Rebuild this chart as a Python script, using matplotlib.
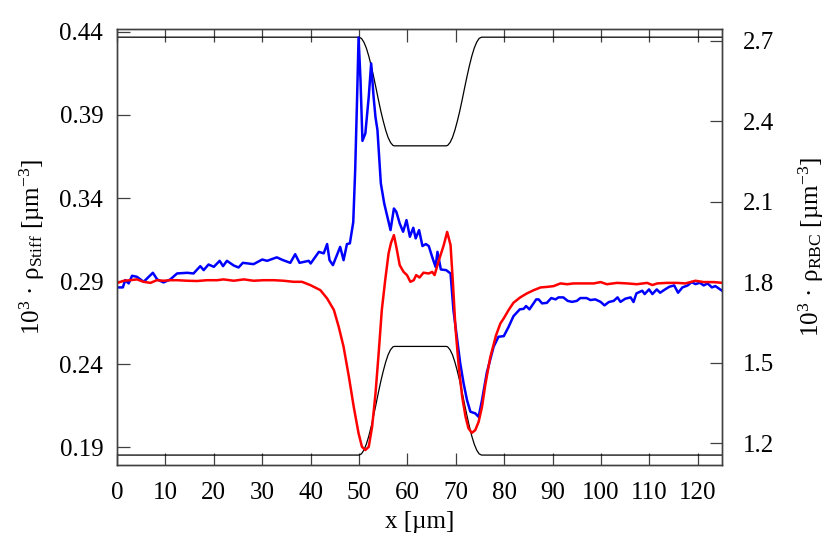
import numpy as np
import matplotlib
matplotlib.use('Agg')
import matplotlib.pyplot as plt

plt.rcParams['font.family'] = ['Liberation Serif', 'DejaVu Serif']
plt.rcParams['mathtext.fontset'] = 'custom'
plt.rcParams['mathtext.rm'] = 'Liberation Serif'
plt.rcParams['mathtext.it'] = 'Liberation Serif:italic'

# stiff cell density (left axis)
x_stiff = [0.0, 1.2, 1.7, 2.4, 3.1, 4.1, 5.5, 6.2, 7.4, 8.3, 9.6, 11.0, 12.4, 14.5,
           15.8, 17.2, 17.9, 18.9, 20.0, 21.2, 21.9, 22.7, 24.1, 25.1, 26.0, 28.2,
           30.0, 31.0, 33.0, 34.3, 35.8, 36.8, 37.7, 39.6, 40.0, 41.7, 42.7, 43.4,
           43.9, 44.6, 46.1, 46.8, 47.5, 48.1, 48.8, 49.2, 49.6, 49.9, 50.3, 50.7,
           51.3, 52.0, 52.5, 53.0, 53.4, 53.8, 54.5, 55.2, 56.5, 57.2, 57.7, 58.4,
           59.1, 59.8, 60.5, 61.2, 61.7, 62.4, 63.1, 63.8, 64.4, 65.1, 65.8, 66.2,
           66.9, 68.0, 68.9, 69.5, 70.2, 70.9, 71.6, 72.3, 73.0, 74.0, 74.7, 75.4,
           76.4, 77.8, 78.8, 79.9, 80.9, 81.9, 83.2, 84.0, 84.5, 85.2, 86.6, 87.1,
           87.8, 88.8, 89.7, 90.6, 91.2, 92.2, 93.1, 94.0, 95.0, 95.7, 97.0, 97.8,
           98.8, 99.9, 100.7, 101.6, 102.6, 103.4, 104.0, 105.0, 106.1, 106.7, 107.3,
           108.5, 109.0, 109.9, 110.6, 111.5, 112.2, 113.0, 114.1, 115.1, 115.9,
           116.8, 117.9, 118.7, 119.5, 120.4, 121.2, 122.0, 122.9, 123.6, 125.0]
rho_stiff = [0.2862, 0.2862, 0.2906, 0.2886, 0.2932, 0.2926, 0.2896, 0.2916, 0.2950,
             0.2910, 0.2892, 0.2910, 0.2946, 0.2950, 0.2946, 0.2990, 0.2966, 0.3000,
             0.2986, 0.3022, 0.2990, 0.3022, 0.2994, 0.2982, 0.3010, 0.3002, 0.3030,
             0.3022, 0.3043, 0.3026, 0.3010, 0.3062, 0.3010, 0.3022, 0.3006, 0.3076,
             0.3067, 0.3123, 0.3026, 0.2996, 0.3106, 0.3026, 0.3123, 0.3127, 0.3255,
             0.3568, 0.4009, 0.4366, 0.4109, 0.3744, 0.3789, 0.4009, 0.4210, 0.4009,
             0.3885, 0.3809, 0.3488, 0.3367, 0.3207, 0.3337, 0.3317, 0.3247, 0.3197,
             0.3267, 0.3167, 0.3221, 0.3157, 0.3207, 0.3111, 0.3123, 0.3111, 0.3046,
             0.2986, 0.3076, 0.2970, 0.2966, 0.2946, 0.2725, 0.2565, 0.2405, 0.2284,
             0.2184, 0.2114, 0.2104, 0.2083, 0.2184, 0.2350, 0.2505, 0.2565, 0.2569,
             0.2625, 0.2689, 0.2730, 0.2733, 0.2750, 0.2730, 0.2790, 0.2790, 0.2766,
             0.2769, 0.2798, 0.2790, 0.2802, 0.2802, 0.2781, 0.2775, 0.2781, 0.2798,
             0.2798, 0.2786, 0.2790, 0.2775, 0.2754, 0.2774, 0.2781, 0.2802, 0.2775,
             0.2794, 0.2802, 0.2774, 0.2826, 0.2842, 0.2822, 0.2850, 0.2822, 0.2850,
             0.2830, 0.2846, 0.2866, 0.2874, 0.2830, 0.2862, 0.2874, 0.2894, 0.2882,
             0.2890, 0.2874, 0.2886, 0.2862, 0.2870, 0.2842]

# red blood cell density (right axis)
x_rbc = [0.1, 1.4, 2.7, 4.1, 5.5, 6.9, 8.2, 9.6, 11.0, 12.4, 14.5, 16.5, 18.6, 20.7,
         22.0, 24.1, 26.2, 28.2, 30.3, 32.4, 34.4, 36.5, 38.2, 39.9, 42.0, 43.4,
         44.8, 45.8, 46.8, 47.9, 48.9, 49.9, 50.6, 51.3, 52.0, 52.7, 53.4, 54.1,
         54.7, 55.4, 56.1, 56.6, 57.2, 57.7, 58.4, 59.2, 59.9, 60.6, 61.3, 61.8,
         62.5, 63.3, 64.4, 65.1, 65.6, 66.4, 67.5, 68.2, 68.9, 69.4, 69.9, 70.6,
         71.3, 72.0, 72.6, 73.3, 74.0, 74.7, 75.4, 76.1, 77.1, 78.3, 79.2, 79.9,
         80.9, 81.9, 83.3, 84.7, 86.1, 87.5, 88.8, 90.2, 91.6, 93.0, 94.3, 96.4,
         98.5, 99.9, 101.2, 103.3, 105.4, 107.4, 109.5, 110.6, 111.6, 113.6, 115.7,
         117.4, 119.5, 121.2, 123.3, 125.0]
rho_rbc = [1.798, 1.806, 1.808, 1.811, 1.802, 1.798, 1.808, 1.806, 1.808, 1.808,
           1.806, 1.805, 1.808, 1.808, 1.811, 1.806, 1.811, 1.806, 1.808, 1.808,
           1.806, 1.802, 1.802, 1.790, 1.771, 1.740, 1.697, 1.634, 1.560, 1.448,
           1.336, 1.237, 1.187, 1.175, 1.187, 1.262, 1.386, 1.548, 1.697, 1.808,
           1.908, 1.947, 1.976, 1.932, 1.864, 1.839, 1.827, 1.802, 1.808, 1.827,
           1.818, 1.836, 1.833, 1.839, 1.827, 1.877, 1.939, 1.988, 1.939, 1.796,
           1.634, 1.485, 1.374, 1.299, 1.256, 1.239, 1.249, 1.280, 1.336, 1.420,
           1.520, 1.603, 1.647, 1.666, 1.697, 1.724, 1.744, 1.759, 1.771, 1.781,
           1.783, 1.786, 1.796, 1.793, 1.796, 1.796, 1.796, 1.801, 1.793, 1.798,
           1.796, 1.793, 1.798, 1.790, 1.796, 1.798, 1.798, 1.796, 1.806, 1.801,
           1.801, 1.798]

# channel wall (normalised radius)
x_wall = [0, 50, 50.5, 51, 51.5, 52, 52.5, 53, 53.5, 54, 54.5, 55, 55.5, 56, 56.5,
          57, 57.3, 68.0, 68.3, 68.8, 69.3, 69.8, 70.3, 70.8, 71.3, 71.8, 72.3,
          72.8, 73.3, 73.8, 74.3, 74.8, 75.3, 125]
r_wall = [1, 1, 0.994, 0.976, 0.948, 0.91, 0.864, 0.812, 0.757, 0.70, 0.646,
          0.598, 0.555, 0.52, 0.496, 0.482, 0.48, 0.48, 0.482, 0.496, 0.52, 0.555,
          0.598, 0.646, 0.70, 0.757, 0.812, 0.864, 0.91, 0.948, 0.976, 0.994, 1, 1]
wall_mid = 0.31105
wall_half = 0.12575

fig = plt.figure(figsize=(8.3, 5.51), dpi=100)
ax = fig.add_axes([0.141, 0.156, 0.729, 0.791])
ax2 = ax.twinx()

r = np.array(r_wall)
ax.plot(x_wall, wall_mid + wall_half * r, color='black', lw=0.9)
ax.plot(x_wall, wall_mid - wall_half * r, color='black', lw=0.9)
ax.plot(x_stiff, rho_stiff, color='#0000ff', lw=1.8)
ax2.plot(x_rbc, rho_rbc, color='#ff0000', lw=1.8)

ax.set_xlim(0, 125)
ax.set_ylim(0.1793, 0.4416)
ax2.set_ylim(1.119, 2.7436)
ax.set_xticks(np.arange(0, 121, 10))
ax.set_yticks([0.19, 0.24, 0.29, 0.34, 0.39, 0.44])
ax.set_yticklabels(['0.19', '0.24', '0.29', '0.34', '0.39', '0.44'])
ax2.set_yticks([1.2, 1.5, 1.8, 2.1, 2.4, 2.7])
ax2.set_yticklabels(['1.2', '1.5', '1.8', '2.1', '2.4', '2.7'])

frame = '0.25'
for a in (ax, ax2):
    for s in a.spines.values():
        s.set_color(frame)
        s.set_linewidth(1.0)
ax.tick_params(axis='x', direction='in', length=9, width=0.9, color=frame,
               top=True, labelsize=18, pad=12)
ax.tick_params(axis='y', direction='in', length=9, width=0.9, color=frame,
               right=False, labelsize=18, pad=10)
ax2.tick_params(axis='y', direction='in', length=9, width=0.9, color=frame,
                labelsize=18, pad=15)

ax.set_xlabel('x [µm]', fontsize=18, labelpad=5)
ax.set_ylabel(r'10$^3$ · ρ$_{\mathrm{Stiff}}$ [µm$^{-3}$]', fontsize=18, labelpad=9)
ax2.set_ylabel(r'10$^3$ · ρ$_{\mathrm{RBC}}$ [µm$^{-3}$]', fontsize=18, labelpad=16)

fig.savefig('out.png', dpi=100)
